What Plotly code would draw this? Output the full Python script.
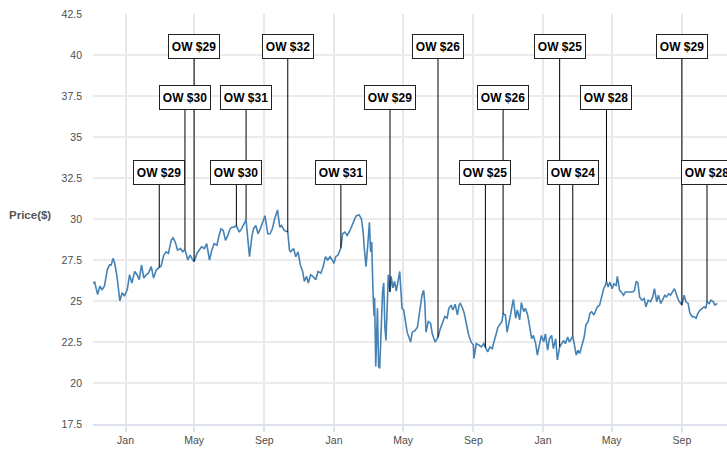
import plotly.graph_objects as go

# ---------------- data ----------------
dates = [
    "2018-11-05", "2018-11-08", "2018-11-13", "2018-11-17", "2018-11-21", "2018-11-25", "2018-11-30",
    "2018-12-04", "2018-12-07", "2018-12-10", "2018-12-13", "2018-12-17", "2018-12-22", "2018-12-26", "2018-12-30",
    "2019-01-04", "2019-01-08", "2019-01-12", "2019-01-17", "2019-01-21", "2019-01-25", "2019-01-29",
    "2019-02-02", "2019-02-06", "2019-02-10", "2019-02-15", "2019-02-19", "2019-02-24",
    "2019-03-01", "2019-03-04", "2019-03-09", "2019-03-13", "2019-03-17", "2019-03-22", "2019-03-25", "2019-03-29",
    "2019-04-02", "2019-04-07", "2019-04-11", "2019-04-15", "2019-04-20", "2019-04-24", "2019-04-27",
    "2019-05-01", "2019-05-06", "2019-05-10", "2019-05-14", "2019-05-19", "2019-05-23", "2019-05-28",
    "2019-06-01", "2019-06-05", "2019-06-10", "2019-06-13", "2019-06-17", "2019-06-21", "2019-06-25", "2019-06-29",
    "2019-07-03", "2019-07-06", "2019-07-10", "2019-07-14", "2019-07-19", "2019-07-23", "2019-07-27", "2019-07-31",
    "2019-08-03", "2019-08-06", "2019-08-10", "2019-08-13", "2019-08-17", "2019-08-21", "2019-08-25", "2019-08-29",
    "2019-09-02", "2019-09-07", "2019-09-11", "2019-09-15", "2019-09-19", "2019-09-24", "2019-09-28",
    "2019-10-01", "2019-10-06", "2019-10-12", "2019-10-15", "2019-10-17", "2019-10-22", "2019-10-26", "2019-10-30",
    "2019-11-03", "2019-11-07", "2019-11-10", "2019-11-14", "2019-11-17", "2019-11-21", "2019-11-25", "2019-11-30",
    "2019-12-04", "2019-12-09", "2019-12-13", "2019-12-17", "2019-12-21", "2019-12-25", "2019-12-29",
    "2020-01-01", "2020-01-04", "2020-01-08", "2020-01-13", "2020-01-16", "2020-01-20", "2020-01-24", "2020-01-29",
    "2020-02-02", "2020-02-05", "2020-02-09", "2020-02-14", "2020-02-18", "2020-02-21", "2020-02-23", "2020-02-26", "2020-02-29",
    "2020-03-03", "2020-03-05", "2020-03-07", "2020-03-09", "2020-03-11", "2020-03-12", "2020-03-14", "2020-03-17",
    "2020-03-19", "2020-03-21", "2020-03-24", "2020-03-26", "2020-03-28", "2020-03-30",
    "2020-04-01", "2020-04-03", "2020-04-05", "2020-04-08", "2020-04-10", "2020-04-13", "2020-04-16", "2020-04-19",
    "2020-04-22", "2020-04-25", "2020-04-29",
    "2020-05-02", "2020-05-08", "2020-05-10", "2020-05-14", "2020-05-17", "2020-05-22", "2020-05-26", "2020-05-29",
    "2020-06-01", "2020-06-03", "2020-06-06", "2020-06-08", "2020-06-10", "2020-06-14", "2020-06-18", "2020-06-21",
    "2020-06-26", "2020-06-28",
    "2020-07-01", "2020-07-05", "2020-07-10", "2020-07-13", "2020-07-17", "2020-07-20", "2020-07-24", "2020-07-27", "2020-07-31",
    "2020-08-04", "2020-08-07", "2020-08-09", "2020-08-12", "2020-08-16", "2020-08-20", "2020-08-24", "2020-08-28",
    "2020-09-01", "2020-09-02", "2020-09-06", "2020-09-11", "2020-09-15", "2020-09-19", "2020-09-22", "2020-09-26", "2020-09-30",
    "2020-10-04", "2020-10-07", "2020-10-11", "2020-10-14", "2020-10-18", "2020-10-21", "2020-10-23", "2020-10-27", "2020-10-30",
    "2020-11-02", "2020-11-05", "2020-11-08", "2020-11-10", "2020-11-14", "2020-11-17", "2020-11-21", "2020-11-24", "2020-11-28",
    "2020-12-01", "2020-12-05", "2020-12-08", "2020-12-12", "2020-12-15", "2020-12-19", "2020-12-22", "2020-12-26", "2020-12-29",
    "2021-01-02", "2021-01-05", "2021-01-09", "2021-01-12", "2021-01-16", "2021-01-19", "2021-01-23", "2021-01-26", "2021-01-30",
    "2021-02-02", "2021-02-06", "2021-02-09", "2021-02-13", "2021-02-16", "2021-02-20", "2021-02-22", "2021-02-25", "2021-02-28",
    "2021-03-03", "2021-03-06", "2021-03-10", "2021-03-14", "2021-03-17", "2021-03-21", "2021-03-24", "2021-03-27", "2021-03-31",
    "2021-04-03", "2021-04-06", "2021-04-10", "2021-04-13", "2021-04-17", "2021-04-20", "2021-04-22", "2021-04-25", "2021-04-28",
    "2021-05-02", "2021-05-05", "2021-05-09", "2021-05-11", "2021-05-15", "2021-05-18", "2021-05-22", "2021-05-25", "2021-05-30",
    "2021-06-03", "2021-06-07", "2021-06-10", "2021-06-13", "2021-06-16", "2021-06-19", "2021-06-23", "2021-06-27", "2021-06-30",
    "2021-07-04", "2021-07-08", "2021-07-12", "2021-07-15", "2021-07-19", "2021-07-22", "2021-07-26", "2021-07-29",
    "2021-08-02", "2021-08-05", "2021-08-09", "2021-08-12", "2021-08-16", "2021-08-19", "2021-08-23", "2021-08-26", "2021-08-30",
    "2021-09-01", "2021-09-05", "2021-09-08", "2021-09-12", "2021-09-15", "2021-09-19", "2021-09-22", "2021-09-26", "2021-09-29",
    "2021-10-03", "2021-10-06", "2021-10-10", "2021-10-13", "2021-10-15", "2021-10-19", "2021-10-22", "2021-10-26", "2021-10-29",
    "2021-11-02",
]

prices = [
    26.10, 26.15, 25.40, 25.90, 25.70, 25.90, 26.90,
    27.20, 27.20, 27.60, 27.30, 26.50, 25.00, 25.50, 25.30,
    25.70, 26.60, 26.10, 26.80, 26.60, 26.30, 27.20,
    26.40, 26.60, 26.70, 27.10, 26.40, 26.90,
    27.05, 27.10, 27.80, 28.00, 27.90, 28.70, 28.85, 28.60,
    28.10, 28.20, 28.00, 28.15, 27.50, 27.80, 27.60,
    27.40, 27.90, 28.10, 28.30, 28.20, 28.50, 27.50,
    28.10, 28.50, 28.40, 28.90, 29.40, 29.30, 28.70, 29.00,
    29.40, 29.50, 29.50, 29.60, 29.20, 29.40, 29.70, 29.95,
    28.80, 27.70, 28.90, 29.40, 29.60, 29.10, 29.40, 29.80,
    30.20, 29.10, 29.10, 29.40, 30.00, 30.55, 29.50,
    29.60, 29.30, 29.20, 28.10, 28.00, 28.20, 27.70, 28.00,
    27.20, 26.80, 26.20, 26.50, 26.10, 26.60, 26.50, 26.30,
    26.80, 26.70, 27.10, 27.70, 27.50, 27.70, 27.50,
    27.30, 27.70, 27.80, 28.25, 29.10, 29.20, 29.00, 29.30,
    29.70, 29.90, 30.20, 30.25, 30.00, 29.20, 28.20, 27.10, 28.40,
    29.80, 28.00, 28.60, 25.80, 24.10, 25.20, 21.00, 24.55,
    21.00, 20.90, 24.55, 25.60, 26.10, 23.40,
    22.60, 24.55, 26.60, 25.55, 26.50, 25.80, 26.20, 25.60,
    26.20, 26.80, 24.55,
    24.45, 23.10, 22.90, 22.50, 23.10, 23.20, 23.40, 24.15,
    24.75, 25.35, 25.65, 24.85, 23.10, 23.75, 23.65, 23.00,
    22.50, 22.60,
    22.80, 23.30, 23.75, 24.05, 23.95, 24.55, 24.75, 24.45, 24.80,
    24.15, 24.75, 24.85, 24.65, 24.25, 23.55, 22.90, 22.50,
    22.30, 21.50, 22.40, 22.30, 22.20, 22.40, 22.15, 21.90, 22.20,
    22.10, 22.50, 23.10, 23.40, 23.60, 23.75, 24.20, 24.15, 23.10,
    23.75, 24.15, 24.75, 25.10, 23.95, 24.45, 23.85, 24.90, 24.35,
    24.55, 24.15, 23.55, 22.70, 22.90, 22.40, 21.70, 22.30, 22.90,
    22.50, 23.00, 22.00, 22.70, 22.90, 22.10, 22.70, 21.40, 22.20,
    22.40, 22.60, 22.40, 22.80, 22.50, 22.70, 22.85, 22.30, 21.70,
    22.00, 21.80, 22.30, 22.80, 23.55, 23.75, 24.25, 24.35, 24.15,
    24.45, 24.65, 24.75, 25.25, 25.75, 25.95, 26.20, 25.85, 26.15,
    25.75, 26.05, 25.95, 26.50, 25.65, 25.55, 25.35, 25.55, 25.55,
    25.55, 25.55, 25.65, 26.20, 26.10, 25.25, 25.05, 25.15, 24.65,
    25.05, 24.95, 25.25, 25.75, 24.95, 25.35, 24.85, 25.05,
    25.35, 25.25, 25.45, 25.35, 25.55, 25.75, 25.35, 25.05, 24.85,
    24.75, 25.35, 24.95, 24.85, 24.25, 24.05, 24.05, 23.95, 24.25,
    24.45, 24.55, 24.65, 24.55, 24.95, 24.85, 25.05, 24.95, 24.75,
    24.85,
]

ann_dates = [
    "2019-03-01", "2019-04-15", "2019-05-01", "2019-07-14", "2019-07-31", "2019-10-12",
    "2020-01-13", "2020-04-08", "2020-07-01", "2020-09-22", "2020-10-23",
    "2021-01-30", "2021-02-22", "2021-04-22", "2021-09-01", "2021-10-15",
]
ann_labels = [
    "OW $29", "OW $30", "OW $29", "OW $30", "OW $31", "OW $32",
    "OW $31", "OW $29", "OW $26", "OW $25", "OW $26",
    "OW $25", "OW $24", "OW $28", "OW $29", "OW $28",
]
ann_tiers = [3, 2, 1, 3, 2, 1, 3, 2, 1, 3, 2, 1, 3, 2, 1, 3]

y_ticks = [17.5, 20, 22.5, 25, 27.5, 30, 32.5, 35, 37.5, 40, 42.5]

# ---------------- style / layout ----------------
TIER_Y = {1: 40.5, 2: 37.42, 3: 32.85}
FONT = "Liberation Sans, Arial, sans-serif"
TICK_COLOR = "#4d4d4d"

price_at = dict(zip(dates, prices))

fig = go.Figure()
fig.add_trace(go.Scatter(
    x=dates, y=prices, mode="lines",
    line=dict(color="#4682b4", width=1.6),
    hoverinfo="skip", showlegend=False,
))

for d, lab, t in zip(ann_dates, ann_labels, ann_tiers):
    fig.add_shape(
        type="line", xref="x", yref="y",
        x0=d, x1=d, y0=price_at[d], y1=TIER_Y[t],
        line=dict(color="black", width=1), layer="above",
    )
    fig.add_annotation(
        x=d, y=TIER_Y[t], xref="x", yref="y",
        text=f"<b>{lab}</b>", showarrow=False,
        width=44, height=17,
        bgcolor="white", bordercolor="#222222", borderwidth=1, borderpad=3,
        font=dict(family=FONT, size=12, color="black"),
    )

fig.add_annotation(
    xref="paper", yref="paper", x=0, y=0.51,
    xanchor="right", yanchor="middle", xshift=-40,
    text="<b>Price($)</b>", showarrow=False,
    font=dict(family=FONT, size=11.5, color="#555555"),
)

fig.update_layout(
    template="none",
    width=727, height=450,
    margin=dict(l=93, r=0, t=14, b=26),
    plot_bgcolor="white", paper_bgcolor="white",
    font=dict(family=FONT, size=11, color=TICK_COLOR),
    showlegend=False,
    xaxis=dict(
        type="date", range=["2018-11-05", "2021-11-19"],
        tick0="2019-01-01", dtick="M4", tickformat="%b<br>%y",
        showgrid=True, gridcolor="#e6e8ee", gridwidth=1.5,
        ticks="outside", ticklen=6, tickcolor="#dfe3ec", tickwidth=1.5,
        showline=True, linecolor="#dde2ec", linewidth=1.5,
        zeroline=False, automargin=False,
        tickfont=dict(family=FONT, size=10.5, color=TICK_COLOR),
    ),
    yaxis=dict(
        range=[17.5, 42.5], tickvals=y_ticks,
        ticktext=[f"{v:g}" for v in y_ticks],
        showgrid=True, gridcolor="#ebebeb", gridwidth=1.5,
        ticks="", showline=False, zeroline=False, automargin=False,
        ticklabelstandoff=10,
        tickfont=dict(family=FONT, size=10.5, color=TICK_COLOR),
    ),
)

fig.write_html(
    "out.html",
    config={"displayModeBar": False},
    post_script="document.body.style.margin='0';document.body.style.overflow='hidden';",
)
